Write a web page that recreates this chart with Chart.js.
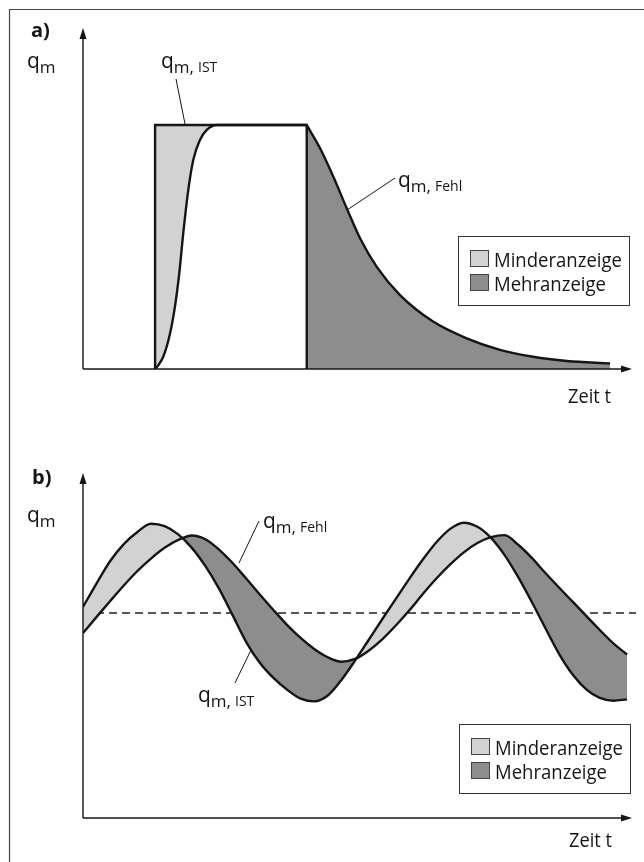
<!DOCTYPE html>
<html>
<head>
<meta charset="utf-8">
<script src="https://cdn.jsdelivr.net/npm/chart.js@4.4.0/dist/chart.umd.min.js"></script>
<style>
html, body { margin: 0; padding: 0; background: #fff; }
canvas { display: block; }
</style>
</head>
<body>
<canvas id="chartA" width="644" height="431"></canvas>
<canvas id="chartB" width="644" height="431"></canvas>
<script>
// a) Sprung: Ist-Durchfluss und angezeigter (fehlerhafter) Durchfluss
var tIstA = [5.3, 5.3, 16.45, 16.45];
var qIstA = [0, 70, 70, 0];
var tFehlA = [5.3, 5.46, 5.9, 6.4, 6.76, 7.08, 7.37, 7.74, 8.11, 8.6, 9.1, 9.83,
              16.45, 17.43, 18.4, 19.39, 20.37, 21.6, 23.31, 25.74, 28.21, 30.66, 33.09, 35.57, 38.75];
var qFehlA = [0, 0.7, 3.5, 10.2, 17.9, 27.5, 38.9, 51.3, 60.0, 65.7, 68.6, 70,
              70, 63.3, 55.2, 46.1, 37.5, 29.3, 21.2, 13.6, 8.8, 5.5, 3.5, 2.3, 1.6];

// b) pulsierender Durchfluss
var tB = [0, 1, 2, 3, 4, 5, 6, 7, 8, 9, 10, 11, 12, 13, 14, 15, 16, 17, 18, 19, 20,
          21, 22, 23, 24, 25, 26, 27, 28, 29, 30, 31, 32, 33, 34, 35, 36, 37, 38, 39, 40];
var qIstB = [61.2, 68.0, 74.5, 79.4, 82.9, 85.3, 84.6, 82.2, 78.3, 73.0, 66.5, 58.8, 51.0, 45.0,
             40.6, 37.2, 34.6, 33.8, 35.5, 40.0, 45.6, 51.6, 57.6, 63.5, 69.4, 75.0, 80.0, 83.8,
             85.6, 84.4, 81.2, 76.2, 69.8, 62.6, 55.0, 47.6, 41.6, 37.3, 34.8, 34.0, 34.4];
var qFehlB = [53.6, 58.3, 62.9, 67.4, 71.6, 75.2, 78.3, 80.6, 81.9, 80.8, 77.8, 73.9, 69.4, 64.8,
              60.3, 56.0, 52.2, 49.0, 46.6, 45.3, 46.1, 48.5, 51.8, 55.8, 60.2, 65.0, 69.5, 73.5,
              77.0, 79.7, 81.4, 82.0, 79.2, 75.4, 71.0, 66.8, 62.7, 58.6, 54.5, 50.6, 47.4];
var qMittelB = 59.4;

var legendLabels = ['Minderanzeige', 'Mehranzeige'];

var X_MAX = 40.66;
var LIGHT = '#d2d2d2';
var DARK = '#8d8d8d';
var INK = '#151515';
var FONT = '"Open Sans", "Noto Sans", sans-serif';

function pts(ts, qs) {
    return ts.map(function (t, i) { return {x: t, y: qs[i]}; });
}

var istA = pts(tIstA, qIstA);
var fehlA = pts(tFehlA, qFehlA);
var topIdx = qFehlA.indexOf(70);
var dropIdx = qFehlA.lastIndexOf(70);
// Anstieg + Plateau, danach Abklingen (eigener Abschnitt, damit die Ecke scharf bleibt)
var fehlRiseA = fehlA.slice(0, dropIdx + 1);
var fehlDecayA = fehlA.slice(dropIdx);
// Minderanzeige: zwischen Sprung und Anstieg
var minderA = istA.slice(0, 2).concat(fehlA.slice(0, topIdx + 1).reverse());
// Mehranzeige: unter dem Abklingen
var mehrA = fehlDecayA.concat([
    {x: tFehlA[tFehlA.length - 1], y: 0},
    {x: tIstA[3], y: 0}
]);

function drawQ(ctx, x, y, sub) {
    ctx.fillStyle = INK;
    ctx.textBaseline = 'alphabetic';
    ctx.textAlign = 'left';
    ctx.font = '21px ' + FONT;
    ctx.fillText('q', x, y);
    var w = ctx.measureText('q').width;
    ctx.font = '17px ' + FONT;
    var m = sub ? 'm,' : 'm';
    ctx.fillText(m, x + w, y + 5);
    if (sub) {
        var w2 = ctx.measureText(m).width;
        ctx.font = '14px ' + FONT;
        ctx.fillText(sub, x + w + w2 + 4, y + 4);
    }
}

function drawText(ctx, txt, x, y, size, maxW, bold) {
    ctx.fillStyle = INK;
    ctx.textBaseline = 'alphabetic';
    ctx.textAlign = 'left';
    ctx.font = (bold ? 'bold ' : '') + size + 'px ' + FONT;
    if (maxW) ctx.fillText(txt, x, y, maxW); else ctx.fillText(txt, x, y);
}

function line(ctx, x1, y1, x2, y2, w, col) {
    ctx.beginPath();
    ctx.moveTo(x1, y1);
    ctx.lineTo(x2, y2);
    ctx.lineWidth = w;
    ctx.strokeStyle = col || INK;
    ctx.stroke();
}

function drawAxes(chart) {
    var ctx = chart.ctx;
    var ox = chart.scales.x.getPixelForValue(0);
    var oy = chart.scales.y.getPixelForValue(0);
    var top = chart.chartArea.top;
    var tipX = chart.chartArea.right - 4;
    line(ctx, ox, oy, tipX - 6, oy, 1.4);
    line(ctx, ox, oy, ox, top + 6, 1.4);
    ctx.fillStyle = INK;
    ctx.beginPath();
    ctx.moveTo(tipX, oy); ctx.lineTo(tipX - 11, oy - 3.5); ctx.lineTo(tipX - 11, oy + 3.5);
    ctx.closePath(); ctx.fill();
    ctx.beginPath();
    ctx.moveTo(ox, top); ctx.lineTo(ox - 3.5, top + 11); ctx.lineTo(ox + 3.5, top + 11);
    ctx.closePath(); ctx.fill();
}

function drawLegend(ctx, bx, by) {
    ctx.lineWidth = 1;
    ctx.strokeStyle = '#333';
    ctx.fillStyle = '#fff';
    ctx.fillRect(bx, by, 171, 69);
    ctx.strokeRect(bx + 0.5, by + 0.5, 171, 69);
    var cols = [LIGHT, DARK];
    for (var i = 0; i < 2; i++) {
        var sy = by + 14 + i * 24;
        ctx.fillStyle = cols[i];
        ctx.fillRect(bx + 12, sy, 19, 17);
        ctx.strokeStyle = '#444';
        ctx.strokeRect(bx + 12.5, sy + 0.5, 18, 16);
        drawText(ctx, legendLabels[i], bx + 36, sy + 17, 20, i === 0 ? 128 : 112);
    }
}

var decorA = {
    id: 'decorA',
    afterDatasetsDraw: function (chart) {
        var ctx = chart.ctx;
        ctx.save();
        // Rahmen
        line(ctx, 9, 9.5, 644, 9.5, 1.2, '#444');
        line(ctx, 9.5, 9, 9.5, 431, 1.2, '#444');
        drawAxes(chart);
        drawText(ctx, 'a)', 31, 37, 20, 0, true);
        drawQ(ctx, 27, 68, '');
        drawQ(ctx, 161, 68, 'IST');
        line(ctx, 176, 79, 185, 124, 1);
        drawQ(ctx, 398, 187, 'Fehl');
        line(ctx, 395, 178, 347, 210, 1);
        drawLegend(ctx, 458, 236);
        drawText(ctx, 'Zeit t', 568, 403, 20, 43);
        ctx.restore();
    }
};

var decorB = {
    id: 'decorB',
    afterDatasetsDraw: function (chart) {
        var ctx = chart.ctx;
        ctx.save();
        line(ctx, 9.5, 0, 9.5, 431, 1.2, '#444');
        drawAxes(chart);
        drawText(ctx, 'b)', 32, 53, 20, 0, true);
        drawQ(ctx, 27, 91, '');
        drawQ(ctx, 263, 97, 'Fehl');
        line(ctx, 259, 90, 239, 132, 1);
        drawQ(ctx, 198, 271, 'IST');
        line(ctx, 235, 252, 251, 219, 1);
        drawLegend(ctx, 459, 293);
        drawText(ctx, 'Zeit t', 569, 416, 20, 43);
        ctx.restore();
    }
};

function baseOptions(pad, yMax) {
    return {
        responsive: false,
        animation: false,
        devicePixelRatio: 1,
        layout: {padding: pad},
        plugins: {legend: {display: false}, tooltip: {enabled: false}},
        elements: {point: {radius: 0}},
        scales: {
            x: {type: 'linear', min: 0, max: X_MAX, display: false},
            y: {type: 'linear', min: 0, max: yMax, display: false}
        }
    };
}

new Chart(document.getElementById('chartA'), {
    type: 'line',
    data: {
        datasets: [{
            label: 'q_m,IST',
            data: istA,
            borderColor: INK,
            borderWidth: 2.4,
            tension: 0,
            fill: false
        }, {
            label: 'q_m,Fehl',
            data: fehlRiseA,
            borderColor: INK,
            borderWidth: 2.4,
            cubicInterpolationMode: 'monotone',
            fill: false
        }, {
            label: 'q_m,Fehl (Abklingen)',
            data: fehlDecayA,
            borderColor: INK,
            borderWidth: 2.4,
            cubicInterpolationMode: 'monotone',
            fill: false
        }, {
            label: 'Minderanzeige',
            data: minderA,
            borderWidth: 0,
            backgroundColor: LIGHT,
            tension: 0,
            fill: 'shape'
        }, {
            label: 'Mehranzeige',
            data: mehrA,
            borderWidth: 0,
            backgroundColor: DARK,
            tension: 0,
            fill: 'shape'
        }]
    },
    options: baseOptions({left: 83, right: 8, top: 28, bottom: 62}, 97.8),
    plugins: [decorA]
});

new Chart(document.getElementById('chartB'), {
    type: 'line',
    data: {
        datasets: [{
            label: 'q_m,IST',
            data: pts(tB, qIstB),
            borderColor: INK,
            borderWidth: 2.4,
            cubicInterpolationMode: 'monotone',
            fill: false
        }, {
            label: 'q_m,Fehl',
            data: pts(tB, qFehlB),
            borderColor: INK,
            borderWidth: 2.4,
            cubicInterpolationMode: 'monotone',
            backgroundColor: DARK,
            fill: {target: 0, above: DARK, below: LIGHT}
        }, {
            label: 'Mittelwert',
            data: [{x: 0, y: qMittelB}, {x: X_MAX, y: qMittelB}],
            borderColor: '#222',
            borderWidth: 1.5,
            borderDash: [8, 5],
            fill: false
        }]
    },
    options: baseOptions({left: 83, right: 8, top: 42, bottom: 44}, 100),
    plugins: [decorB]
});
</script>
</body>
</html>
